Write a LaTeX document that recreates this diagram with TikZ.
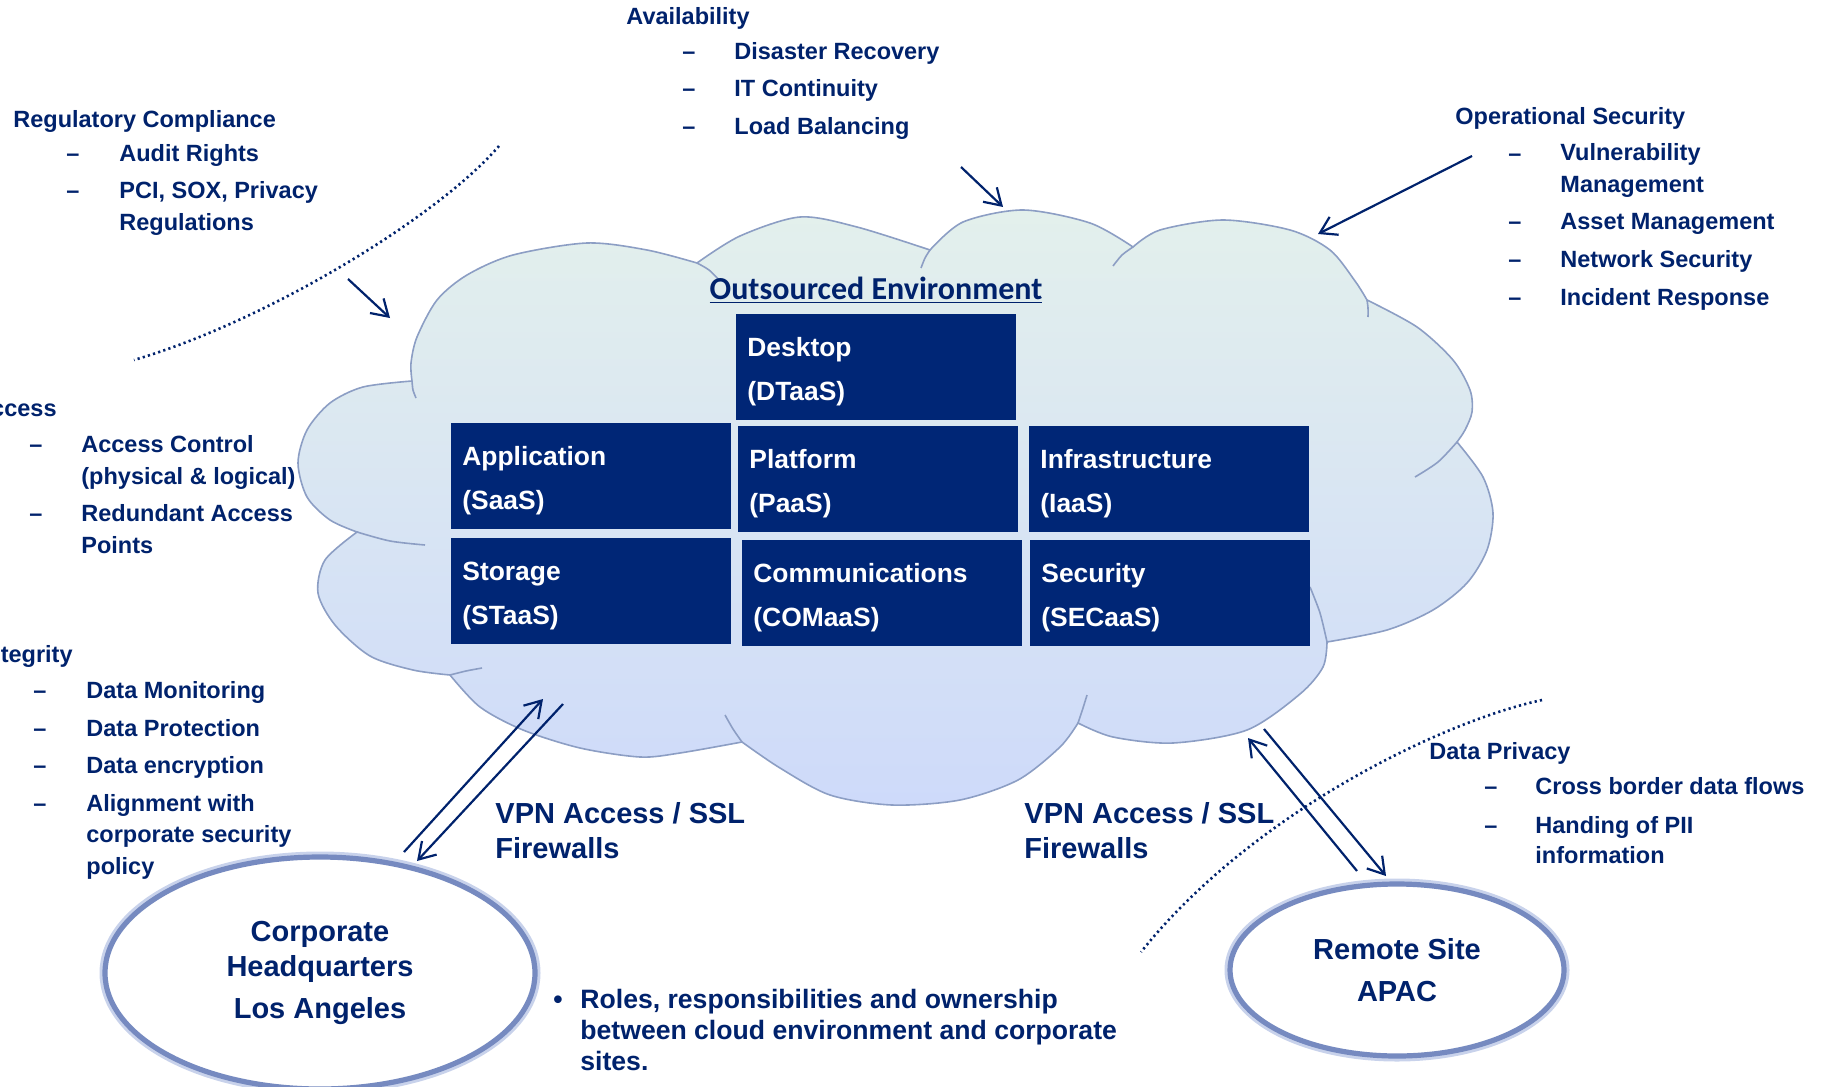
\documentclass[tikz,border=0pt]{standalone}
\usepackage{fontspec}
\setmainfont{Liberation Sans}
\newfontfamily\titlefont{Carlito}
\usepackage{tikz}
\usetikzlibrary{arrows.meta, shapes.geometric}
\definecolor{navy1}{RGB}{0, 34, 108}
\definecolor{boxblue}{RGB}{0, 38, 118}
\definecolor{cloudline}{RGB}{140, 158, 196}
\definecolor{cloudtop}{RGB}{227, 240, 236}
\definecolor{cloudbot}{RGB}{206, 218, 250}
\definecolor{ringblue}{RGB}{118, 138, 192}
\definecolor{ringglow}{RGB}{200, 210, 235}

\begin{document}
\begin{tikzpicture}[x=0.5pt, y=-0.5pt,
  head/.style={anchor=base west, inner sep=0pt, text=navy1, font=\bfseries\fontsize{11.75}{15.75}\selectfont},
  item/.style={head, align=left},
  svcbox/.style={anchor=north west, fill=boxblue, minimum width=140pt, minimum height=53pt, inner sep=0pt},
  svctext/.style={anchor=base west, inner sep=0pt, text=white, align=left, font=\bfseries\fontsize{13.2}{22}\selectfont},
  vpn/.style={anchor=base west, inner sep=0pt, text=navy1, align=left, font=\bfseries\fontsize{14.5}{17.5}\selectfont},
  note/.style={anchor=base west, inner sep=0pt, text=navy1, align=left, font=\bfseries\fontsize{13.3}{15.5}\selectfont},
  site/.style={ellipse, draw=ringblue, line width=2.6pt, fill=white, preaction={draw=ringglow, line width=5.5pt},
    text=navy1, align=center, font=\bfseries\fontsize{14.5}{17.5}\selectfont},
  flow/.style={navy1, line width=1.1pt, -{Straight Barb[length=8pt, width=10pt]}},
  fence/.style={navy1, line width=1.3pt, dash pattern=on 1.1pt off 1.6pt},
  cloudedge/.style={draw=cloudline, line width=0.8pt}]
\useasboundingbox (0,0) rectangle (1829,1086);

% cloud
\path[draw=cloudline, line width=0.8pt, top color=cloudtop, bottom color=cloudbot]
  plot[smooth] coordinates {(357,532) (330,520) (307,497) (298,463) (307,430) (330,403) (363,387) (412,381)}
  -- plot[smooth] coordinates {(412,381) (411,363) (417,337) (437,300) (467,275) (513,255) (587,243) (647,250) (697,263)}
  -- plot[smooth] coordinates {(697,263) (740,236) (800,217) (857,227) (930,250)}
  -- plot[smooth] coordinates {(930,250) (963,222) (1023,210) (1090,223) (1133,247)}
  -- plot[smooth] coordinates {(1133,247) (1160,230) (1223,220) (1290,230) (1330,250) (1355,281) (1367,300)}
  -- plot[smooth] coordinates {(1367,300) (1417,327) (1453,360) (1470,390) (1472,412) (1465,430) (1457,442)}
  -- plot[smooth] coordinates {(1457,442) (1483,477) (1493,513) (1487,550) (1467,583) (1433,610) (1387,630) (1327,642)}
  -- plot[smooth] coordinates {(1327,642) (1323,667) (1300,694) (1247,730) (1173,743) (1113,737) (1078,723)}
  -- plot[smooth] coordinates {(1078,723) (1060,747) (1018,780) (960,800) (892,805) (830,795) (780,768) (742,742)}
  -- plot[smooth] coordinates {(742,742) (680,753) (640,757) (580,748) (523,730) (480,707) (450,675)}
  -- plot[smooth] coordinates {(450,675) (413,670) (370,656) (335,625) (318,593) (325,560) (357,532)}
  -- cycle;
\draw[cloudedge] plot[smooth] coordinates {(412,381) (413,390) (416,398)};
\draw[cloudedge] plot[smooth] coordinates {(697,263) (709,270) (720,281)};
\draw[cloudedge] plot[smooth] coordinates {(930,250) (925,258) (921,268)};
\draw[cloudedge] plot[smooth] coordinates {(1133,247) (1122,255) (1113,266)};
\draw[cloudedge] plot[smooth] coordinates {(1367,300) (1368,308) (1368,317)};
\draw[cloudedge] plot[smooth] coordinates {(1457,442) (1438,462) (1415,477)};
\draw[cloudedge] plot[smooth] coordinates {(1327,642) (1320,613) (1310,587)};
\draw[cloudedge] plot[smooth] coordinates {(1078,723) (1083,708) (1087,695)};
\draw[cloudedge] plot[smooth] coordinates {(742,742) (733,729) (725,715)};
\draw[cloudedge] plot[smooth] coordinates {(450,675) (466,671) (482,668)};
\draw[cloudedge] plot[smooth] coordinates {(357,532) (390,541) (425,545)};

\node[anchor=base, inner sep=0pt, text=navy1, font=\titlefont\bfseries\fontsize{16}{19}\selectfont] (envtitle) at (876,299) {\underline{Outsourced Environment}};

% service boxes, text placed by its last line
\foreach \nm/\x/\y/\t in {desk/736/314/{Desktop\\(DTaaS)}, app/451/423/{Application\\(SaaS)},
    plat/738/426/{Platform\\(PaaS)}, infra/1029/426/{Infrastructure\\(IaaS)},
    stor/451/538/{Storage\\(STaaS)}, comm/742/540/{Communications\\(COMaaS)}, sec/1030/540/{Security\\(SECaaS)}} {
  \node[svcbox] (\nm) at (\x,\y) {};
  \node[svctext] (\nm-txt) at ([xshift=5.5pt, yshift=-43pt]\nm.north west) {\t};
}

% availability
\node[head] (avail) at (626,25) {Availability};
\foreach \t/\yy [count=\i] in {Disaster Recovery/60, IT Continuity/97, Load Balancing/134} {
  \node[head] (avail-d\i) at (682,\yy) {\textendash};
  \node[item] (avail-\i) at (734,\yy) {\t};
}

% regulatory
\node[head] (reg) at (13,127) {Regulatory Compliance};
\foreach \t/\yy/\ly [count=\i] in {Audit Rights/162/162, {PCI, SOX, Privacy\\Regulations}/198/230} {
  \node[head] (reg-d\i) at (66,\yy) {\textendash};
  \node[item] (reg-\i) at (119,\ly) {\t};
}

% operational security
\node[head] (ops) at (1455,125) {Operational Security};
\foreach \t/\yy/\ly [count=\i] in {Vulnerability\\Management/161/192, Asset Management/229/229, Network Security/267/267, Incident Response/305/305} {
  \node[head] (ops-d\i) at (1508,\yy) {\textendash};
  \node[item] (ops-\i) at (1560,\ly) {\t};
}

% access
\node[head, anchor=base east] (acc) at (57,416) {Access};
\foreach \t/\yy/\ly [count=\i] in {Access Control\\(physical \& logical)/452/484, Redundant Access\\Points/521/553} {
  \node[head] (acc-d\i) at (29,\yy) {\textendash};
  \node[item] (acc-\i) at (81,\ly) {\t};
}

% integrity
\node[head, anchor=base east] (integ) at (73,662) {Integrity};
\foreach \t/\yy/\ly [count=\i] in {Data Monitoring/698/698, Data Protection/736/736, Data encryption/773/773, Alignment with\\corporate security\\policy/811/874} {
  \node[head] (integ-d\i) at (33,\yy) {\textendash};
  \node[item] (integ-\i) at (86,\ly) {\t};
}

% data privacy
\node[head] (priv) at (1429,759) {Data Privacy};
\foreach \t/\yy/\ly [count=\i] in {Cross border data flows/794/794, Handing of PII\\information/833/863} {
  \node[head] (priv-d\i) at (1484,\yy) {\textendash};
  \node[item, font=\bfseries\fontsize{11.75}{15}\selectfont] (priv-\i) at (1535,\ly) {\t};
}

\node[site, minimum width=215pt, minimum height=116pt] (hq) at (320,973) {Corporate\\Headquarters\\[3.5pt]Los Angeles};
\node[site, minimum width=167pt, minimum height=86pt] (apac) at (1397,970) {Remote Site\\[3.5pt]APAC};

\node[vpn] (vpn-hq) at (495,858) {VPN Access / SSL\\Firewalls};
\node[vpn] (vpn-apac) at (1024,858) {VPN Access / SSL\\Firewalls};

\node[note] (roles-dot) at (553,1008) {\textbullet};
\node[note] (roles) at (580,1070) {Roles, responsibilities and ownership\\between cloud environment and corporate\\sites.};

% fences
\coordinate (fence1-a) at (499,146);
\coordinate (fence1-b) at (134,360);
\coordinate (fence2-a) at (1542,700);
\coordinate (fence2-b) at (1141,952);
\draw[fence] (fence1-a) .. controls (440,215) and (270,320) .. (fence1-b);
\draw[fence] (fence2-a) .. controls (1440,722) and (1250,815) .. (fence2-b);

% arrows
\coordinate (reg-tail) at (348,279);
\coordinate (reg-tip) at (390,318);
\coordinate (avail-tail) at (961,167);
\coordinate (avail-tip) at (1003,207);
\coordinate (ops-tail) at (1472,156);
\coordinate (ops-tip) at (1318,234);
\coordinate (hq-up) at (404,852);
\coordinate (cloud-hq-in) at (543,699);
\coordinate (cloud-hq-out) at (563,704);
\coordinate (hq-down) at (417,861);
\coordinate (apac-up) at (1357,871);
\coordinate (cloud-apac-in) at (1248,738);
\coordinate (cloud-apac-out) at (1264,729);
\coordinate (apac-down) at (1386,876);
\draw[flow] (reg-tail) -- (reg-tip);
\draw[flow] (avail-tail) -- (avail-tip);
\draw[flow] (ops-tail) -- (ops-tip);
\draw[flow] (hq-up) -- (cloud-hq-in);
\draw[flow] (cloud-hq-out) -- (hq-down);
\draw[flow] (apac-up) -- (cloud-apac-in);
\draw[flow] (cloud-apac-out) -- (apac-down);
\end{tikzpicture}
\end{document}
